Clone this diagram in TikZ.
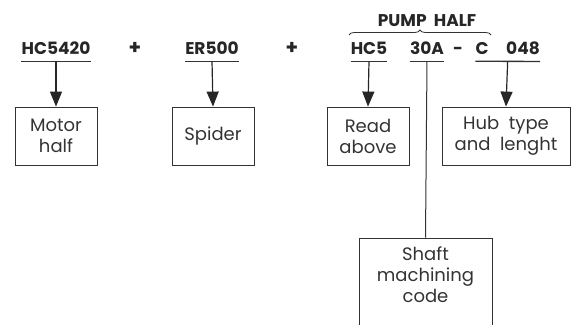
\documentclass[tikz,border=0pt]{standalone}
\usepackage{fontspec}
\setmainfont{Poppins}
\usepackage{tikz}
\usetikzlibrary{positioning,arrows.meta,calc,decorations.pathreplacing}

\begin{document}
\begin{tikzpicture}[x=1pt, y=-1pt,
  code/.style={font=\fontsize{17}{19}\selectfont\bfseries, text=black!85, inner xsep=0pt, inner ysep=7pt, anchor=base},
  sign/.style={code, font=\fontsize{20}{22}\selectfont\bfseries},
  part/.style={draw=black!80, line width=0.8pt, minimum width=82pt, minimum height=58pt, align=center,
    font=\fontsize{18}{21}\selectfont, text=black!80, inner sep=2pt},
  uline/.style={line width=1.3pt, draw=black!80},
  pointer/.style={line width=1.2pt, draw=black!85, -{Triangle[width=12pt,length=15pt]}}]
\useasboundingbox (0,0) rectangle (573,324);
% order code
\node[code] (hcm) at (56,54) {HC5420};
\node[sign] (plusa) at (135,54) {+};
\node[code] (er) at (212,54) {ER500};
\node[sign] (plusb) at (292,54) {+};
\node[code] (hc) at (369,54) {HC5};
\node[code] (bore) at (427,54) {30A};
\node[code] (dash) at (458,54) {-};
\node[code] (hubc) at (482,54) {C};
\node[code] (len) at (523,54) {048};
\node[code, inner ysep=2pt] (pump) at (427,26) {PUMP\ \ HALF};
\draw[decorate, decoration={brace, amplitude=5pt}, line width=0.8pt, black!80] (349,35) -- (491,35);
% underlines
\draw[uline] (hcm.south west) -- (hcm.south east);
\draw[uline] (er.south west) -- (er.south east);
\draw[uline] (hc.south west) -- (hc.south east);
\draw[uline] (bore.south west) -- (bore.south east);
\draw[uline] (hubc.south west) -- (len.south east);
\coordinate (hubu) at ($(hubc.south west)!0.5!(len.south east)$);
% boxes
\node[part] (motor) at (56,136) {Motor\\half};
\node[part] (spider) at (213,136) {Spider};
\node[part] (read) at (368,136) {Read\\above};
\node[part, minimum width=128pt] (hubbox) at (506,136) {Hub\ \ type\\and\ \ lenght};
\node[part, minimum width=133pt, minimum height=97pt, text depth=24pt] (shaft) at (425.5,286.5) {Shaft\\machining\\code};
% connectors
\draw[pointer] (hcm.south) -- (motor.north);
\draw[pointer] (er.south) -- (spider.north);
\draw[pointer] (hc.south) -- (read.north);
\draw[pointer] (hubu) -- (hubbox.north);
\draw[line width=1pt, black!80] (bore.south) -- (shaft.north);
\end{tikzpicture}
\end{document}
